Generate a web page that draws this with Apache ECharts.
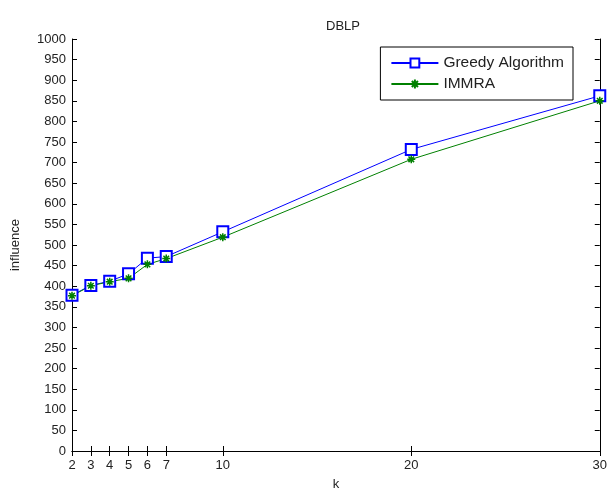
<!DOCTYPE html>
<html><head><meta charset="utf-8">
<script src="https://cdn.jsdelivr.net/npm/echarts@6/dist/echarts.min.js"></script>
<style>html,body{margin:0;padding:0;background:#fff}#c{width:610px;height:496px}</style>
</head><body><div id="c"></div>
<script>
const kValues = [2, 3, 4, 5, 6, 7, 10, 20, 30];
const greedy = [378, 402, 412, 430, 468, 472, 532, 732, 862];
const immra = [377, 401, 411, 419, 453, 467, 519, 708, 850];
const xTicks = [2, 3, 4, 5, 6, 7, 10, 20, 30];
const seriesNames = ['Greedy Algorithm', 'IMMRA'];

const star = 'path://M5,0 L5,10 M0,5 L10,5 M1.5,1.5 L8.5,8.5 M8.5,1.5 L1.5,8.5';
const font = 'Liberation Sans, Arial, sans-serif';
const chart = echarts.init(document.getElementById('c'));
const axisLine = {show: true, lineStyle: {color: '#000', width: 1}};
chart.setOption({
  animation: false,
  title: {text: 'DBLP', left: 338, top: 15, textAlign: 'center',
    textStyle: {fontFamily: font, fontSize: 13, fontWeight: 'normal', color: '#222'}},
  grid: {left: 72, right: 7, top: 39, bottom: 42},
  legend: {
    orient: 'vertical', right: 37, top: 47, itemWidth: 47, itemHeight: 11, itemGap: 5,
    backgroundColor: '#fff', borderColor: '#000', borderWidth: 1, padding: [8, 9, 8, 10],
    textStyle: {fontFamily: font, fontSize: 15.5, color: '#222'},
    data: seriesNames
  },
  xAxis: [{
    type: 'value', min: 2, max: 30, name: 'k', nameLocation: 'middle', nameGap: 27,
    nameTextStyle: {fontFamily: font, fontSize: 13, color: '#222'},
    axisLine: axisLine, splitLine: {show: false},
    axisTick: {inside: true, customValues: xTicks, length: 5, lineStyle: {color: '#000'}},
    axisLabel: {customValues: xTicks, fontFamily: font, fontSize: 13, color: '#222', margin: 8}
  }, {
    type: 'value', min: 2, max: 30, position: 'top', axisLine: axisLine, splitLine: {show: false},
    axisTick: {inside: true, customValues: xTicks, length: 5, lineStyle: {color: '#000'}},
    axisLabel: {show: false}
  }],
  yAxis: [{
    type: 'value', min: 0, max: 1000, interval: 50, name: 'influence', nameLocation: 'middle',
    nameGap: 50, nameTextStyle: {fontFamily: font, fontSize: 13, color: '#222'},
    axisLine: axisLine, splitLine: {show: false},
    axisTick: {inside: true, length: 5, lineStyle: {color: '#000'}},
    axisLabel: {fontFamily: font, fontSize: 13, color: '#222', margin: 6, formatter: v => String(v)}
  }, {
    type: 'value', min: 0, max: 1000, interval: 50, position: 'right',
    axisLine: axisLine, splitLine: {show: false},
    axisTick: {inside: true, length: 5, lineStyle: {color: '#000'}},
    axisLabel: {show: false}
  }],
  series: [{
    name: seriesNames[0], type: 'line', data: kValues.map((k, i) => [k, greedy[i]]),
    symbol: 'emptyRect', symbolSize: 11, color: '#0000ff',
    lineStyle: {width: 1, color: '#0000ff'}, itemStyle: {color: '#0000ff', borderWidth: 1.2}
  }, {
    name: seriesNames[1], type: 'line', data: kValues.map((k, i) => [k, immra[i]]),
    symbol: star, symbolSize: 8, color: '#008000',
    lineStyle: {width: 1, color: '#008000'}, itemStyle: {color: '#008000', borderColor: '#008000', borderWidth: 1.5}
  }]
});
</script></body></html>
